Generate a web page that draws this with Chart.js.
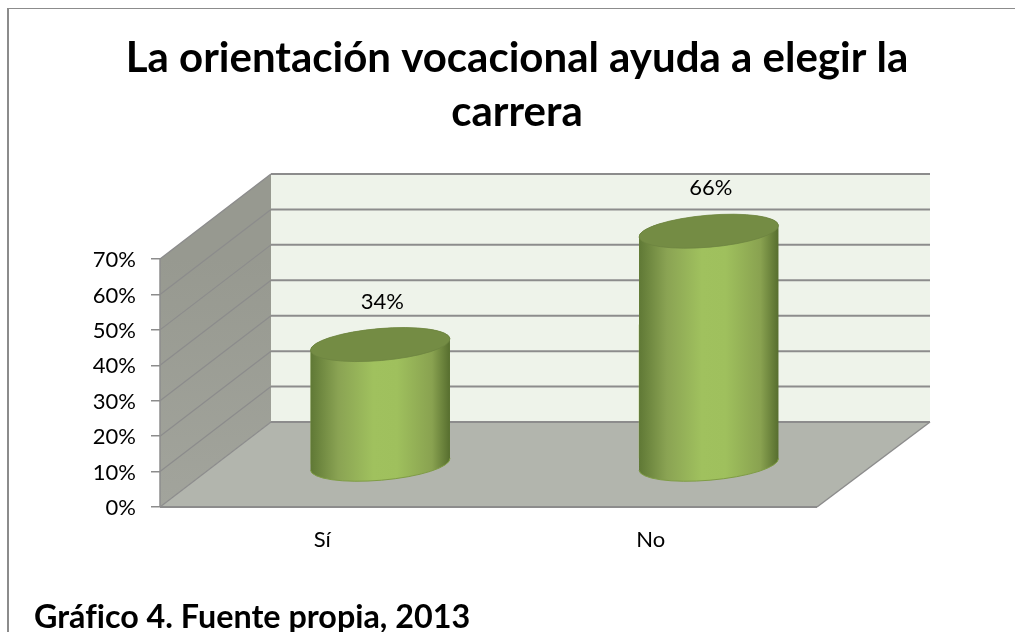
<!DOCTYPE html>
<html>
<head>
<meta charset="utf-8">
<title>Gráfico 4</title>
<script src="https://cdn.jsdelivr.net/npm/chart.js@4"></script>
<style>
  html, body { margin: 0; padding: 0; background: #fff; overflow: hidden; }
  #marco { position: absolute; left: 7px; top: 8px; width: 1008px; height: 624px; border-left: 2px solid #8c8c8c; border-top: 1px solid #8c8c8c; box-sizing: border-box; }
  #grafico { position: absolute; left: 0; top: 0; }
  #fuente { position: absolute; left: 34px; top: 596px; font: bold 32.3px Lato, sans-serif; font-variant-ligatures: none; color: #000; white-space: nowrap; }
</style>
</head>
<body>
<div id="marco"></div>
<canvas id="grafico" width="1015" height="632"></canvas>
<div id="fuente">Gráfico 4. Fuente propia, 2013</div>
<script>
var categorias = ["Sí", "No"];
var valores = [34, 66];
var titulo = ["La orientación vocacional ayuda a elegir la", "carrera"];

// profundidad de la caja 3D
var fondoX = 111, fondoXDer = 113, fondoY = -85;
// desplazamiento de los cilindros dentro de la caja
var cilX = 56, cilY = -42;
var elipseB = 16, elipseRot = -0.085;

function poligono(ctx, pts, relleno) {
  ctx.beginPath();
  ctx.moveTo(pts[0][0], pts[0][1]);
  for (var i = 1; i < pts.length; i++) ctx.lineTo(pts[i][0], pts[i][1]);
  ctx.closePath();
  ctx.fillStyle = relleno;
  ctx.fill();
}

function linea(ctx, x1, y1, x2, y2, color, ancho) {
  ctx.beginPath();
  ctx.moveTo(x1, y1);
  ctx.lineTo(x2, y2);
  ctx.strokeStyle = color;
  ctx.lineWidth = ancho;
  ctx.stroke();
}

function silueta(ctx, bar) {
  var a = bar.width / 2;
  ctx.ellipse(bar.x, bar.base, a, elipseB, elipseRot, 0, Math.PI);
  ctx.ellipse(bar.x, bar.y, a, elipseB, elipseRot, Math.PI, 2 * Math.PI);
  ctx.closePath();
}

function degradado(ctx, x, ancho) {
  var g = ctx.createLinearGradient(x - ancho / 2, 0, x + ancho / 2, 0);
  g.addColorStop(0, "#5f7835");
  g.addColorStop(0.2, "#8aa353");
  g.addColorStop(0.45, "#a0c15e");
  g.addColorStop(0.62, "#9fc05d");
  g.addColorStop(0.87, "#89a250");
  g.addColorStop(1, "#566d2e");
  return g;
}

var caja3d = {
  id: "caja3d",
  afterLayout: function (chart) {
    // el título va centrado sobre todo el gráfico, no sobre el área de datos
    chart.titleBlock.left = 19;
    chart.titleBlock.right = 1015;
  },
  beforeDraw: function (chart) {
    var ctx = chart.ctx, y = chart.scales.y, x = chart.scales.x;
    var izq = x.left, der = x.right, arr = y.top, ab = y.bottom;
    var gris = "#8c8c8c";
    ctx.save();
    // pared del fondo
    poligono(ctx, [[izq + fondoX, arr + fondoY], [der + fondoXDer, arr + fondoY], [der + fondoXDer, ab + fondoY], [izq + fondoX, ab + fondoY]], "#eef3ea");
    // pared lateral
    var gradPared = ctx.createLinearGradient(0, arr, 0, ab);
    gradPared.addColorStop(0, "#979990");
    gradPared.addColorStop(1, "#a2a49c");
    poligono(ctx, [[izq, arr], [izq + fondoX, arr + fondoY], [izq + fondoX, ab + fondoY], [izq, ab]], gradPared);
    // suelo
    poligono(ctx, [[izq, ab], [der, ab], [der + fondoXDer, ab + fondoY], [izq + fondoX, ab + fondoY]], "#b2b5ad");
    // rejilla
    y.ticks.forEach(function (t) {
      var py = y.getPixelForValue(t.value);
      linea(ctx, izq, py, izq + fondoX, py + fondoY, gris, t.value == 70 ? 1.5 : 1.2);
      linea(ctx, izq + fondoX, py + fondoY, der + fondoXDer, py + fondoY, gris, 2);
    });
    // bordes
    linea(ctx, izq, arr, izq, ab, gris, 1.5);
    linea(ctx, izq, ab, der, ab, gris, 2);
    linea(ctx, der, ab, der + fondoXDer, ab + fondoY, gris, 1.5);
    ctx.restore();
  },
  beforeDatasetsDraw: function (chart) {
    var ctx = chart.ctx;
    ctx.save();
    ctx.translate(cilX, cilY);
    // recorta las barras a la forma del cilindro
    ctx.beginPath();
    chart.getDatasetMeta(0).data.forEach(function (bar) {
      silueta(ctx, bar);
    });
    ctx.clip();
  },
  afterDatasetsDraw: function (chart) {
    var ctx = chart.ctx;
    ctx.restore();
    ctx.save();
    ctx.translate(cilX, cilY);
    chart.getDatasetMeta(0).data.forEach(function (bar, i) {
      var a = bar.width / 2;
      // cuerpo y base curva
      ctx.beginPath();
      silueta(ctx, bar);
      ctx.fillStyle = degradado(ctx, bar.x, bar.width);
      ctx.fill();
      ctx.beginPath();
      ctx.ellipse(bar.x, bar.base, a, elipseB, elipseRot, 0, Math.PI);
      ctx.strokeStyle = "#7f9c45";
      ctx.lineWidth = 1;
      ctx.stroke();
      // tapa
      ctx.beginPath();
      ctx.ellipse(bar.x, bar.y, a, elipseB, elipseRot, 0, 2 * Math.PI);
      ctx.fillStyle = "#748c44";
      ctx.fill();
      ctx.strokeStyle = "#6c8340";
      ctx.lineWidth = 0.75;
      ctx.stroke();
      // etiqueta de valor
      ctx.fillStyle = "#000";
      ctx.font = "22px Lato, sans-serif";
      ctx.textAlign = "center";
      ctx.textBaseline = "middle";
      ctx.fillText(valores[i] + "%", bar.x + 2, bar.y - 43);
    });
    ctx.restore();
  }
};

new Chart(document.getElementById("grafico"), {
  type: "bar",
  data: {
    labels: categorias,
    datasets: [{
      data: valores,
      barPercentage: 1,
      categoryPercentage: 0.426,
      clip: false,
      backgroundColor: "#9fc05d"
    }]
  },
  options: {
    responsive: false,
    animation: false,
    layout: { padding: { left: 0, right: 198, top: 0, bottom: 0 } },
    plugins: {
      legend: { display: false },
      tooltip: { enabled: false },
      title: {
        display: true,
        text: titulo,
        color: "#000",
        font: { family: "Lato, sans-serif", size: 42, weight: "bold", lineHeight: 1.286 },
        padding: { top: 31, bottom: 120 }
      }
    },
    scales: {
      x: {
        afterFit: function (s) { s.height = 125; },
        grid: { display: false },
        border: { display: false },
        ticks: { color: "#000", font: { family: "Lato, sans-serif", size: 22 }, padding: 12, labelOffset: -2, maxRotation: 0 }
      },
      y: {
        min: 0,
        max: 70,
        afterFit: function (s) { s.width = 160; },
        border: { display: false },
        grid: { drawOnChartArea: false, drawTicks: true, tickLength: 9, color: "#8c8c8c", lineWidth: 1.5 },
        ticks: {
          stepSize: 10,
          padding: 15,
          labelOffset: 1,
          color: "#000",
          font: { family: "Lato, sans-serif", size: 22 },
          callback: function (v) { return v + "%"; }
        }
      }
    }
  },
  plugins: [caja3d]
});
</script>
</body>
</html>
